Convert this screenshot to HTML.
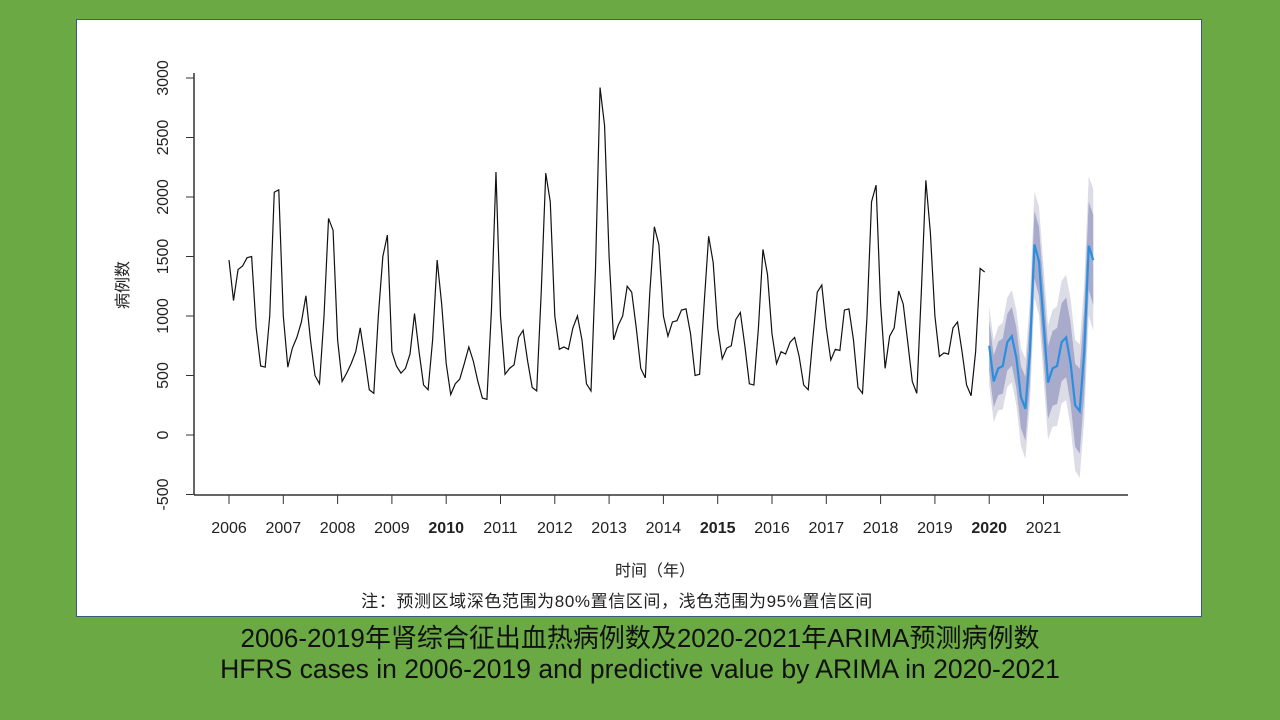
<!DOCTYPE html>
<html><head><meta charset="utf-8"><style>
html,body{margin:0;padding:0;}
body{width:1280px;height:720px;background:#6aa943;position:relative;overflow:hidden;font-family:"Liberation Sans","Noto Sans CJK SC",sans-serif;}
#box{position:absolute;left:76px;top:19px;width:1124px;height:596px;background:#fff;border:1px solid #3b5a7a;}
.t{position:absolute;left:0;width:1280px;text-align:center;color:#111;white-space:nowrap;}
</style></head><body>
<div id="box"></div>
<svg id="s" width="1280" height="720" style="position:absolute;left:0;top:0" font-family="Liberation Sans, Noto Sans CJK SC, sans-serif"></svg>
<div class="t" style="top:618px;font-size:26px;">2006-2019年肾综合征出血热病例数及2020-2021年ARIMA预测病例数</div>
<div class="t" style="top:654px;font-size:26.5px;">HFRS cases in 2006-2019 and predictive value by ARIMA in 2020-2021</div>
<script>
var d=[1470,1130,1390,1420,1490,1500,900,580,570,1000,2040,2060,
1000,570,730,820,950,1170,800,500,430,1000,1820,1720,
800,450,520,600,700,900,650,380,350,1000,1500,1680,
700,580,520,560,680,1020,700,420,380,800,1470,1100,
600,340,430,470,600,740,620,450,310,300,1050,2210,
1000,510,560,590,820,880,620,400,370,1200,2200,1960,
1000,720,740,720,900,1000,800,430,370,1400,2920,2600,
1500,800,920,1000,1250,1200,900,560,480,1200,1750,1600,
1000,830,950,960,1050,1060,850,500,510,1100,1670,1450,
900,640,730,750,970,1030,750,430,420,900,1560,1350,
850,600,700,680,780,820,660,420,380,800,1200,1260,
900,630,720,710,1050,1060,800,400,350,1000,1960,2100,
1100,560,830,900,1210,1100,780,450,350,1200,2140,1700,
1000,660,690,680,900,950,700,420,330,700,1400,1370];
var f=[750,450,560,580,780,830,650,320,220,700,1600,1460,950,440,560,580,780,820,600,250,200,700,1590,1470];
function X(i){return 229+i*54.3/12;}function Y(v){return 435-v*0.119;}
var s='';
s+='<line x1="194" y1="73" x2="194" y2="495" stroke="#333" stroke-width="1.5"/>';
s+='<line x1="194" y1="495" x2="1128" y2="495" stroke="#333" stroke-width="1.5"/>';
for(var v=-500;v<=3000;v+=500){var y=Y(v);s+='<line x1="186" y1="'+y+'" x2="194" y2="'+y+'" stroke="#333"/>';
s+='<text transform="translate(168,'+y+') rotate(-90)" text-anchor="middle" font-size="16" fill="#222">'+v+'</text>';}
for(var yr=0;yr<16;yr++){var x=229+yr*54.3;s+='<line x1="'+x+'" y1="495" x2="'+x+'" y2="504" stroke="#333"/>';
s+='<text x="'+x+'" y="533" text-anchor="middle" font-size="16" fill="#222"'+((yr==4||yr==9||yr==14)?' font-weight="bold"':'')+'>'+(2006+yr)+'</text>';}
function band(k){var up='',lo='';for(var i=0;i<24;i++){var w=k*(1+i*0.035);up+=X(168+i)+','+Y(f[i]+w)+' ';}
for(var i=23;i>=0;i--){var w=k*(1+i*0.035);lo+=X(168+i)+','+Y(f[i]-w)+' ';}return up+lo;}
s+='<polygon points="'+band(330)+'" fill="#dcdce6"/>';
s+='<polygon points="'+band(210)+'" fill="#a9abcc"/>';
var p='';for(var i=0;i<d.length;i++)p+=X(i)+','+Y(d[i])+' ';
s+='<polyline points="'+p+'" fill="none" stroke="#111" stroke-width="1.2"/>';
p='';for(var i=0;i<24;i++)p+=X(168+i)+','+Y(f[i])+' ';
s+='<polyline points="'+p+'" fill="none" stroke="#2b8fe0" stroke-width="2.2"/>';
s+='<text transform="translate(128,285) rotate(-90)" text-anchor="middle" font-size="16" fill="#222">病例数</text>';
s+='<text x="655" y="576" text-anchor="middle" font-size="16" fill="#222">时间（年）</text>';
s+='<text x="617" y="607" text-anchor="middle" font-size="17" letter-spacing="0.6" fill="#222">注：预测区域深色范围为80%置信区间，浅色范围为95%置信区间</text>';
document.getElementById('s').innerHTML=s;
</script>
</body></html>
